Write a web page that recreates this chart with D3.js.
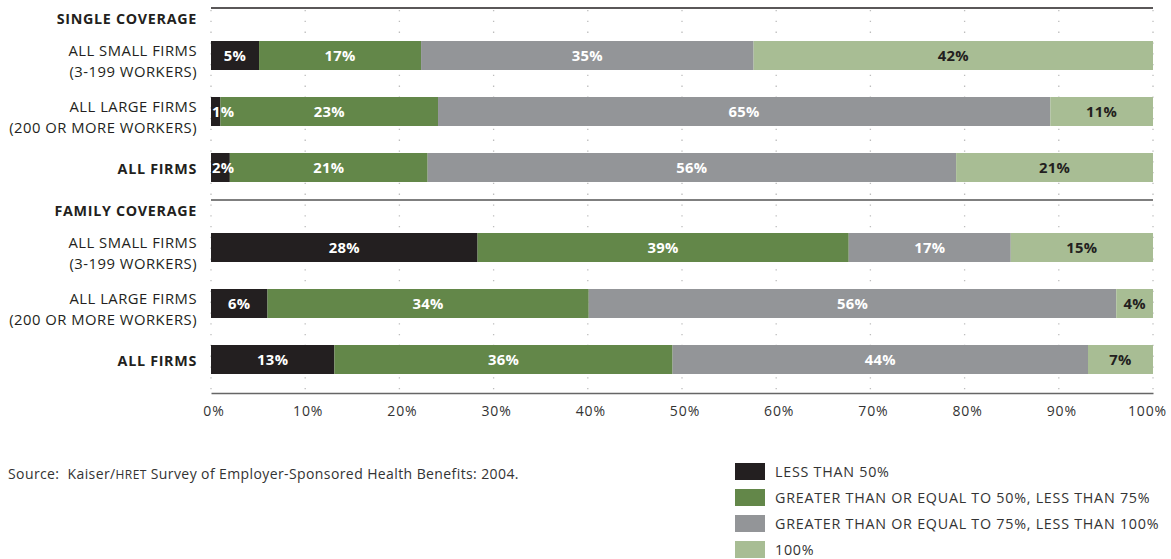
<!DOCTYPE html>
<html>
<head>
<meta charset="utf-8">
<script src="https://cdn.jsdelivr.net/npm/d3@7"></script>
<style>
  html, body { margin: 0; padding: 0; background: #fff; }
  svg { display: block; font-family: "Open Sans", "DejaVu Sans", sans-serif; }
</style>
</head>
<body>
<svg id="chart" width="1171" height="559"></svg>
<script>
// Share of premium paid by employer, by firm size and coverage type
const groups = ["SINGLE COVERAGE", "FAMILY COVERAGE"];
const rowKeys = ["small", "large", "all"];
const rowLabels = {
  small: ["ALL SMALL FIRMS", "(3-199 WORKERS)"],
  large: ["ALL LARGE FIRMS", "(200 OR MORE WORKERS)"],
  all: ["ALL FIRMS"]
};
const seriesNames = [
  "LESS THAN 50%",
  "GREATER THAN OR EQUAL TO 50%, LESS THAN 75%",
  "GREATER THAN OR EQUAL TO 75%, LESS THAN 100%",
  "100%"
];
const seriesColors = ["#231f20", "#638749", "#939598", "#a8bd94"];
const labelColors = ["#ffffff", "#ffffff", "#ffffff", "#231f20"];

// Percent of covered workers in each contribution band
const singleSmall = [5.1, 17.2, 35.3, 42.4];
const singleLarge = [1.0, 23.1, 65.0, 10.9];
const singleAll   = [2.0, 21.0, 56.1, 20.9];
const familySmall = [28.3, 39.4, 17.2, 15.1];
const familyLarge = [6.0, 34.1, 56.0, 3.9];
const familyAll   = [13.1, 35.9, 44.1, 6.9];

const xTicks = [0, 10, 20, 30, 40, 50, 60, 70, 80, 90, 100];

const rows = [
  { group: groups[0], key: "small", values: singleSmall },
  { group: groups[0], key: "large", values: singleLarge },
  { group: groups[0], key: "all",   values: singleAll },
  { group: groups[1], key: "small", values: familySmall },
  { group: groups[1], key: "large", values: familyLarge },
  { group: groups[1], key: "all",   values: familyAll }
];

const svg = d3.select("#chart");
const ink = "#231f20";

const x = d3.scaleLinear().domain([0, 100]).range([211, 1153]);
const yGroup = d3.scaleBand().domain(groups).range([8, 392]);
const yRow = d3.scaleBand().domain(rowKeys).range([33, 174])
  .paddingInner(27 / 56).paddingOuter(0).align(0);
const rowTop = r => yGroup(r.group) + yRow(r.key);
const bh = yRow.bandwidth();

// dotted vertical grid
svg.append("g").selectAll("line").data(xTicks).join("line")
  .attr("x1", d => x(d)).attr("x2", d => x(d))
  .attr("y1", 10).attr("y2", 392)
  .attr("stroke", "#bdbdbd").attr("stroke-width", 1.3)
  .attr("stroke-dasharray", "1.3,9.5");

// group divider lines
svg.append("g").selectAll("line").data(groups).join("line")
  .attr("x1", x(0)).attr("x2", x(100))
  .attr("y1", d => yGroup(d)).attr("y2", d => yGroup(d))
  .attr("stroke", (d, i) => i === 0 ? ink : "#555")
  .attr("stroke-width", 1.4);

// group headings
svg.append("g").selectAll("text").data(groups).join("text")
  .attr("x", 197).attr("y", d => yGroup(d) + 16)
  .attr("text-anchor", "end")
  .attr("font-size", 14.3).attr("font-weight", 700)
  .attr("letter-spacing", 0.7).attr("fill", ink)
  .text(d => d);

// row labels
const rowLabelG = svg.append("g").selectAll("text").data(rows).join("text")
  .attr("text-anchor", "end")
  .attr("font-size", d => d.key === "all" ? 14.3 : 14.8)
  .attr("letter-spacing", d => d.key === "all" ? 0.7 : 0.5)
  .attr("fill", ink)
  .attr("font-weight", d => d.key === "all" ? 700 : 400);
rowLabelG.each(function (d) {
  const lines = rowLabels[d.key];
  const t = d3.select(this);
  const mid = rowTop(d) + bh / 2;
  lines.forEach((ln, i) => {
    t.append("tspan").attr("x", 197)
      .attr("y", lines.length === 1 ? mid + 6 : mid + 0 + i * 21)
      .text(ln);
  });
});

// stacked segments
const segs = rows.flatMap(r => {
  let acc = 0;
  return r.values.map((v, i) => {
    const s = { row: r, i, v, x0: acc, x1: acc + v };
    acc += v;
    return s;
  });
});

svg.append("g").selectAll("rect").data(segs).join("rect")
  .attr("x", d => x(d.x0))
  .attr("y", d => rowTop(d.row))
  .attr("width", d => x(d.x1) - x(d.x0))
  .attr("height", bh)
  .attr("fill", d => seriesColors[d.i]);

svg.append("g").selectAll("text").data(segs).join("text")
  .attr("x", d => {
    const w = x(d.x1) - x(d.x0);
    return w < 22 ? x(d.x0) + 1 : (x(d.x0) + x(d.x1)) / 2;
  })
  .attr("y", d => rowTop(d.row) + bh / 2 + 5.2)
  .attr("text-anchor", d => (x(d.x1) - x(d.x0)) < 22 ? "start" : "middle")
  .attr("font-size", 14.8).attr("font-weight", 700)
  .attr("letter-spacing", 0.3)
  .attr("fill", d => labelColors[d.i])
  .text(d => Math.round(d.v) + "%");

// bottom axis
const axis = svg.append("g").attr("transform", "translate(0,393)")
  .call(d3.axisBottom(x).tickValues(xTicks).tickSize(0).tickPadding(13)
    .tickFormat(d => d + "%"));
axis.select(".domain").attr("stroke", "#666").attr("stroke-width", 1.4);
axis.selectAll(".tick text")
  .attr("font-family", "\"Open Sans\", sans-serif")
  .attr("dx", d => d === 100 ? -6 : 2.5)
  .attr("font-size", 14).attr("fill", "#333").attr("letter-spacing", 0.9);

// source note
const src = svg.append("text").attr("x", 8).attr("y", 479)
  .attr("font-size", 14).attr("letter-spacing", 0.4).attr("fill", "#333");
src.append("tspan").text("Source:\u00a0\u00a0Kaiser/");
src.append("tspan").attr("font-size", 12).text("HRET");
src.append("tspan").text(" Survey of Employer-Sponsored Health Benefits: 2004.");

// legend
const legend = svg.append("g").selectAll("g").data(seriesNames).join("g")
  .attr("transform", (d, i) => `translate(735,${463 + i * 26})`);
legend.append("rect").attr("width", 30).attr("height", 17)
  .attr("fill", (d, i) => seriesColors[i]);
legend.append("text").attr("x", 40).attr("y", 14)
  .attr("font-size", 14.3).attr("letter-spacing", 0.75).attr("fill", "#333")
  .text(d => d);
</script>
</body>
</html>
